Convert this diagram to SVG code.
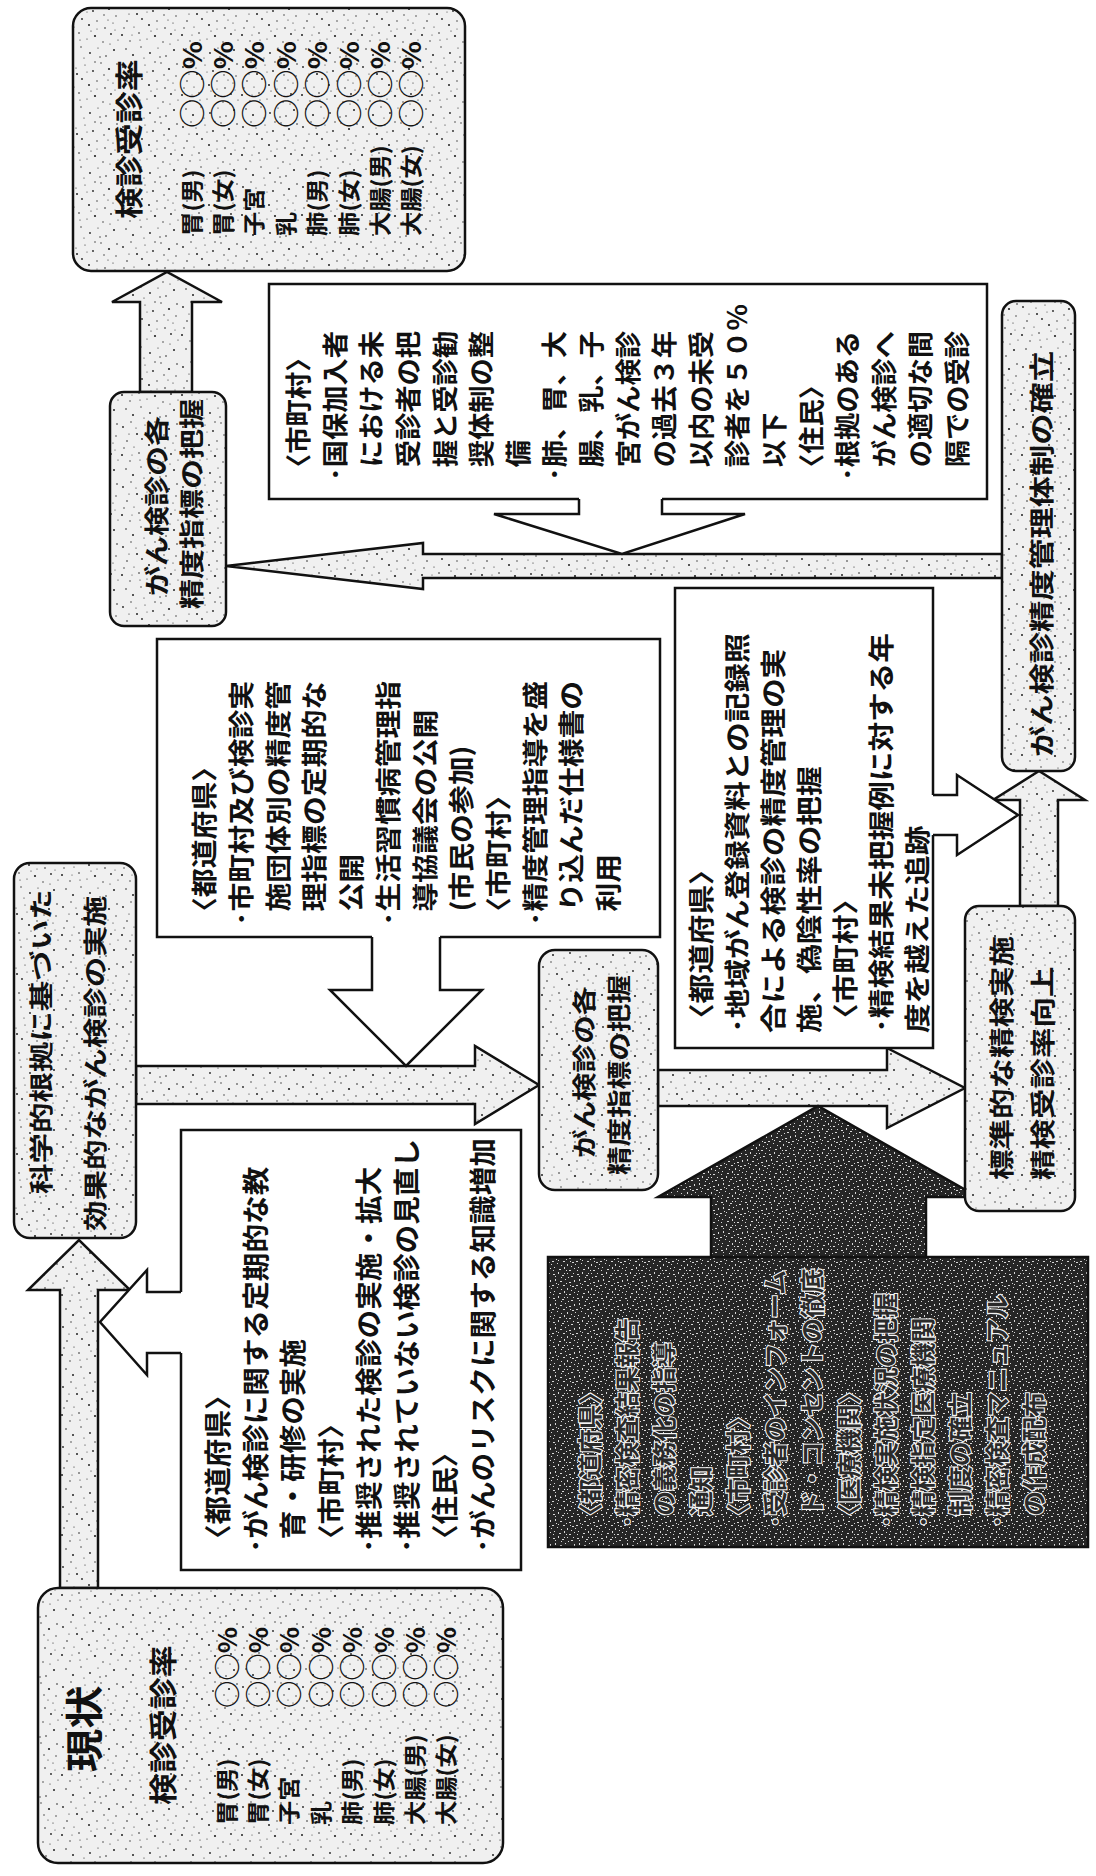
<svg xmlns="http://www.w3.org/2000/svg" width="1096" height="1876" viewBox="0 0 1096 1876">
<defs>
<pattern id="stip" width="60" height="60" patternUnits="userSpaceOnUse">
<rect width="60" height="60" fill="#f0f0f0"/>
<g fill="#222">
<circle cx="3" cy="7" r="0.9"/><circle cx="11" cy="2" r="0.7"/><circle cx="17" cy="14" r="1"/><circle cx="25" cy="5" r="0.6"/><circle cx="33" cy="11" r="0.9"/><circle cx="41" cy="3" r="0.7"/><circle cx="49" cy="9" r="1.1"/><circle cx="56" cy="16" r="0.7"/><circle cx="7" cy="21" r="0.8"/><circle cx="14" cy="27" r="0.6"/><circle cx="22" cy="19" r="0.9"/><circle cx="29" cy="25" r="1"/><circle cx="37" cy="21" r="0.7"/><circle cx="45" cy="28" r="0.8"/><circle cx="53" cy="23" r="0.6"/><circle cx="2" cy="35" r="1"/><circle cx="10" cy="41" r="0.7"/><circle cx="19" cy="33" r="0.8"/><circle cx="27" cy="39" r="0.6"/><circle cx="35" cy="36" r="1.1"/><circle cx="43" cy="42" r="0.7"/><circle cx="51" cy="34" r="0.9"/><circle cx="58" cy="40" r="0.6"/><circle cx="6" cy="49" r="0.8"/><circle cx="13" cy="55" r="1"/><circle cx="21" cy="47" r="0.7"/><circle cx="30" cy="53" r="0.9"/><circle cx="38" cy="48" r="0.6"/><circle cx="46" cy="56" r="0.8"/><circle cx="54" cy="50" r="1"/><circle cx="16" cy="8" r="0.6"/><circle cx="44" cy="15" r="0.7"/><circle cx="31" cy="31" r="0.6"/><circle cx="4" cy="28" r="0.7"/><circle cx="57" cy="4" r="0.8"/><circle cx="24" cy="58" r="0.6"/><circle cx="40" cy="57" r="0.7"/><circle cx="50" cy="44" r="0.6"/><circle cx="9" cy="14" r="0.6"/><circle cx="35" cy="2" r="0.7"/><circle cx="20" cy="40" r="0.6"/><circle cx="48" cy="20" r="0.6"/><circle cx="27" cy="12" r="0.5"/><circle cx="55" cy="30" r="0.5"/><circle cx="12" cy="35" r="0.5"/><circle cx="37" cy="29" r="0.5"/>
</g>
</pattern>
<pattern id="dk" width="24" height="24" patternUnits="userSpaceOnUse">
<rect width="24" height="24" fill="#262626"/>
<g fill="#d8d8d8">
<rect x="1" y="2" width="2" height="1"/><rect x="6" y="0" width="1" height="2"/><rect x="10" y="3" width="2" height="1"/><rect x="15" y="1" width="1" height="1"/><rect x="19" y="4" width="2" height="1"/><rect x="3" y="7" width="1" height="2"/><rect x="8" y="9" width="2" height="1"/><rect x="13" y="7" width="1" height="1"/><rect x="17" y="10" width="2" height="1"/><rect x="22" y="8" width="1" height="2"/><rect x="0" y="13" width="2" height="1"/><rect x="5" y="15" width="1" height="1"/><rect x="11" y="13" width="2" height="1"/><rect x="15" y="16" width="1" height="2"/><rect x="20" y="14" width="2" height="1"/><rect x="2" y="19" width="1" height="1"/><rect x="7" y="21" width="2" height="1"/><rect x="12" y="19" width="1" height="2"/><rect x="17" y="22" width="2" height="1"/><rect x="22" y="20" width="1" height="1"/><rect x="9" y="5" width="1" height="1"/><rect x="4" y="11" width="1" height="1"/><rect x="14" y="11" width="1" height="1"/><rect x="19" y="18" width="1" height="1"/><rect x="3" y="4" width="1" height="1"/><rect x="12" y="1" width="1" height="1"/><rect x="21" y="1" width="1" height="1"/><rect x="6" y="12" width="1" height="1"/><rect x="16" y="5" width="1" height="1"/><rect x="9" y="17" width="1" height="1"/><rect x="1" y="22" width="1" height="1"/><rect x="14" y="22" width="1" height="1"/><rect x="23" y="16" width="1" height="1"/><rect x="18" y="13" width="1" height="1"/>
</g>
</pattern>
<style>
.box{stroke:#111;stroke-width:2.5}
.st{fill:url(#stip)}
.dk{fill:url(#dk)}
.wh{fill:#fff;stroke:none}
.ln{fill:none;stroke:#111;stroke-width:2.5;stroke-linejoin:miter}
.flow{fill:url(#stip);stroke:#111;stroke-width:2.5;stroke-linejoin:miter}
text{font-family:"Noto Sans CJK JP","Noto Sans CJK SC",sans-serif;dominant-baseline:central;fill:#111;font-weight:bold}
.mt{fill:#2a2a2a;stroke:#f4f4f4;stroke-width:2.2;paint-order:stroke}
</style>
</defs>
<rect width="1096" height="1876" fill="#fff"/>

<g id="connectors">
<polygon class="flow" points="140,392 140,302 112,302 167,272 222,302 192,302 192,392"/>
<polygon class="flow" points="1002,554 423,554 423,543 226,566 423,589 423,578 1002,578"/>
<polygon class="flow" points="1020,906 1020,800 993,800 1039,771 1085,800 1058,800 1058,906"/>
<polygon class="flow" points="60,1588 60,1290 28,1290 79,1240 130,1290 98,1290 98,1588"/>
<polygon class="flow" points="136,1066 475,1066 475,1046 539,1085 475,1124 475,1104 136,1104"/>
<polygon class="flow" points="658,1070 887,1070 887,1048 965,1088 887,1128 887,1106 658,1106"/>
<polygon class="dk" stroke="#111" stroke-width="2.5" points="711,1259 711,1197 658,1197 818,1106 978,1197 926,1197 926,1259"/>
</g>

<g id="goal">
<rect class="box st" x="73" y="8" width="392" height="263" rx="18"/>
<g transform="translate(0,219) rotate(-90) scale(1.14,1)"><text font-size="28" x="0" y="128">検診受診率</text></g>
<g transform="translate(0,236) rotate(-90) scale(1.1,1)" font-size="22">
<text x="0" y="190">胃(男)</text><text x="0" y="221.4">胃(女)</text><text x="0" y="252.8">子宮</text><text x="0" y="284.2">乳</text><text x="0" y="315.6">肺(男)</text><text x="0" y="347">肺(女)</text><text x="0" y="378.4">大腸(男)</text><text x="0" y="409.8">大腸(女)</text>
</g>
<g transform="translate(0,128) rotate(-90)" font-size="26">
<text x="0" y="190" textLength="87" lengthAdjust="spacingAndGlyphs">○○%</text><text x="0" y="221.4" textLength="87" lengthAdjust="spacingAndGlyphs">○○%</text><text x="0" y="252.8" textLength="87" lengthAdjust="spacingAndGlyphs">○○%</text><text x="0" y="284.2" textLength="87" lengthAdjust="spacingAndGlyphs">○○%</text><text x="0" y="315.6" textLength="87" lengthAdjust="spacingAndGlyphs">○○%</text><text x="0" y="347" textLength="87" lengthAdjust="spacingAndGlyphs">○○%</text><text x="0" y="378.4" textLength="87" lengthAdjust="spacingAndGlyphs">○○%</text><text x="0" y="409.8" textLength="87" lengthAdjust="spacingAndGlyphs">○○%</text>
</g>
</g>

<g id="indexUpper">
<rect class="box st" x="110" y="392" width="116" height="234" rx="14"/>
<g transform="translate(0,596) rotate(-90) scale(1.2,1)"><text font-size="25" x="0" y="155">がん検診の各</text></g>
<g transform="translate(0,609) rotate(-90) scale(1.2,1)"><text font-size="25" x="0" y="190">精度指標の把握</text></g>
</g>

<g id="boxC">
<rect class="box" fill="#fff" x="269" y="284" width="718" height="215"/>
<g transform="translate(0,481) rotate(-90) scale(1.05,1)" font-size="26">
<text x="0" y="297">〈市町村〉</text>
<text x="0" y="333.6">･国保加入者</text>
<text x="13" y="370.2">における未</text>
<text x="13" y="406.8">受診者の把</text>
<text x="13" y="443.4">握と受診勧</text>
<text x="13" y="480">奨体制の整</text>
<text x="13" y="516.6">備</text>
<text x="0" y="553.2">･肺、胃、大</text>
<text x="13" y="589.8">腸、乳、子</text>
<text x="13" y="626.4">宮がん検診</text>
<text x="13" y="663">の過去３年</text>
<text x="13" y="699.6">以内の未受</text>
<text x="13" y="736.2">診者を５０％</text>
<text x="13" y="772.8">以下</text>
<text x="0" y="809.4">〈住民〉</text>
<text x="0" y="846">･根拠のある</text>
<text x="13" y="882.6">がん検診へ</text>
<text x="13" y="919.2">の適切な間</text>
<text x="13" y="955.8">隔での受診</text>
</g>
</g>
<g id="arrowC">
<polygon class="wh" points="579,497 579,514 494,514 622,554 745,514 662,514 662,497"/>
<polyline class="ln" points="579,499 579,514 494,514 622,554 745,514 662,514 662,499"/>
</g>

<g id="boxE">
<rect class="box st" x="1002" y="301" width="73" height="470" rx="14"/>
<g transform="translate(0,757) rotate(-90) scale(1.25,1)"><text font-size="25" x="0" y="1040">がん検診精度管理体制の確立</text></g>
</g>

<g id="boxG">
<rect class="box" fill="#fff" x="157" y="639" width="503" height="298"/>
<g transform="translate(0,926) rotate(-90) scale(1.11,1)" font-size="26">
<text x="0" y="203">〈都道府県〉</text>
<text x="0" y="239.7">･市町村及び検診実</text>
<text x="13" y="276.4">施団体別の精度管</text>
<text x="13" y="313.1">理指標の定期的な</text>
<text x="13" y="349.8">公開</text>
<text x="0" y="386.5">･生活習慣病管理指</text>
<text x="13" y="423.2">導協議会の公開</text>
<text x="13" y="459.9">(市民の参加)</text>
<text x="0" y="496.6">〈市町村〉</text>
<text x="0" y="533.3">･精度管理指導を盛</text>
<text x="13" y="570">り込んだ仕様書の</text>
<text x="13" y="606.7">利用</text>
</g>
</g>
<g id="arrowG">
<polygon class="wh" points="372,935 372,990 330,990 406,1066 482,990 440,990 440,935"/>
<polyline class="ln" points="372,937 372,990 330,990 406,1066 482,990 440,990 440,937"/>
</g>

<g id="boxN">
<rect class="box" fill="#fff" x="675" y="588" width="258" height="460"/>
<g transform="translate(0,1033) rotate(-90) scale(1.14,1)" font-size="26">
<text x="0" y="700">〈都道府県〉</text>
<text x="0" y="736">･地域がん登録資料との記録照</text>
<text x="0" y="772">合による検診の精度管理の実</text>
<text x="0" y="808">施、偽陰性率の把握</text>
<text x="0" y="844">〈市町村〉</text>
<text x="0" y="880">･精検結果未把握例に対する年</text>
<text x="0" y="916">度を越えた追跡</text>
</g>
</g>
<g id="arrowN">
<polygon class="wh" points="931,795 957,795 957,775 1018,815 957,855 957,835 931,835"/>
<polyline class="ln" points="933,795 957,795 957,775 1018,815 957,855 957,835 933,835"/>
</g>

<g id="boxF">
<rect class="box st" x="965" y="906" width="110" height="305" rx="14"/>
<g transform="translate(0,1180) rotate(-90) scale(1.22,1)"><text font-size="25" x="0" y="1000">標準的な精検実施</text><text font-size="25" x="0" y="1041">精検受診率向上</text></g>
</g>

<g id="boxI">
<rect class="box st" x="14" y="863" width="122" height="375" rx="16"/>
<g transform="translate(0,1194) rotate(-90) scale(1.27,1)"><text font-size="24" x="0" y="40">科学的根拠に基づいた</text></g>
<g transform="translate(0,1231) rotate(-90) scale(1.27,1)"><text font-size="24" x="0" y="94">効果的ながん検診の実施</text></g>
</g>

<g id="boxJ">
<rect class="box st" x="539" y="950" width="119" height="240" rx="16"/>
<g transform="translate(0,1158) rotate(-90) scale(1.19,1)"><text font-size="24" x="0" y="583">がん検診の各</text></g>
<g transform="translate(0,1175) rotate(-90) scale(1.19,1)"><text font-size="24" x="0" y="618">精度指標の把握</text></g>
</g>

<g id="boxL">
<rect class="box" fill="#fff" x="181" y="1130" width="340" height="440"/>
<g transform="translate(0,1553) rotate(-90) scale(1.06,1)" font-size="27">
<text x="0" y="216">〈都道府県〉</text>
<text x="0" y="253.9">･がん検診に関する定期的な教</text>
<text x="13" y="291.8">育・研修の実施</text>
<text x="0" y="329.7">〈市町村〉</text>
<text x="0" y="367.6">･推奨された検診の実施・拡大</text>
<text x="0" y="405.5">･推奨されていない検診の見直し</text>
<text x="0" y="443.4">〈住民〉</text>
<text x="0" y="481.3">･がんのリスクに関する知識増加</text>
</g>
</g>
<g id="arrowL">
<polygon class="wh" points="183,1292 147,1292 147,1270 100,1322 147,1375 147,1353 183,1353"/>
<polyline class="ln" points="181,1292 147,1292 147,1270 100,1322 147,1375 147,1353 181,1353"/>
</g>

<g id="boxM">
<rect class="dk" stroke="#111" stroke-width="2.5" x="548" y="1257" width="540" height="290"/>
<g transform="translate(0,1528) rotate(-90) scale(1.03,1)" font-size="24">
<text class="mt" x="0" y="589">〈都道府県〉</text>
<text class="mt" x="0" y="626">･精密検査結果報告</text>
<text class="mt" x="12" y="663">の義務化の指導</text>
<text class="mt" x="12" y="700">通知</text>
<text class="mt" x="0" y="737">〈市町村〉</text>
<text class="mt" x="0" y="774">･受診者のインフォーム</text>
<text class="mt" x="12" y="811">ド・コンセントの徹底</text>
<text class="mt" x="0" y="848">〈医療機関〉</text>
<text class="mt" x="0" y="885">･精検実施状況の把握</text>
<text class="mt" x="0" y="922">･精検指定医療機関</text>
<text class="mt" x="12" y="959">制度の確立</text>
<text class="mt" x="0" y="996">･精密検査マニュアル</text>
<text class="mt" x="12" y="1033">の作成配布</text>
</g>
</g>

<g id="current">
<rect class="box st" x="38" y="1588" width="465" height="275" rx="20"/>
<g transform="translate(0,1772) rotate(-90) scale(1.14,1)"><text font-size="38" x="0" y="82">現状</text></g>
<g transform="translate(0,1805) rotate(-90) scale(1.14,1)"><text font-size="28" x="0" y="162">検診受診率</text></g>
<g transform="translate(0,1825) rotate(-90) scale(1.1,1)" font-size="22">
<text x="0" y="225">胃(男)</text><text x="0" y="256.4">胃(女)</text><text x="0" y="287.8">子宮</text><text x="0" y="319.2">乳</text><text x="0" y="350.6">肺(男)</text><text x="0" y="382">肺(女)</text><text x="0" y="413.4">大腸(男)</text><text x="0" y="444.8">大腸(女)</text>
</g>
<g transform="translate(0,1708) rotate(-90)" font-size="26">
<text x="0" y="225" textLength="81" lengthAdjust="spacingAndGlyphs">○○%</text><text x="0" y="256.4" textLength="81" lengthAdjust="spacingAndGlyphs">○○%</text><text x="0" y="287.8" textLength="81" lengthAdjust="spacingAndGlyphs">○○%</text><text x="0" y="319.2" textLength="81" lengthAdjust="spacingAndGlyphs">○○%</text><text x="0" y="350.6" textLength="81" lengthAdjust="spacingAndGlyphs">○○%</text><text x="0" y="382" textLength="81" lengthAdjust="spacingAndGlyphs">○○%</text><text x="0" y="413.4" textLength="81" lengthAdjust="spacingAndGlyphs">○○%</text><text x="0" y="444.8" textLength="81" lengthAdjust="spacingAndGlyphs">○○%</text>
</g>
</g>
</svg>
